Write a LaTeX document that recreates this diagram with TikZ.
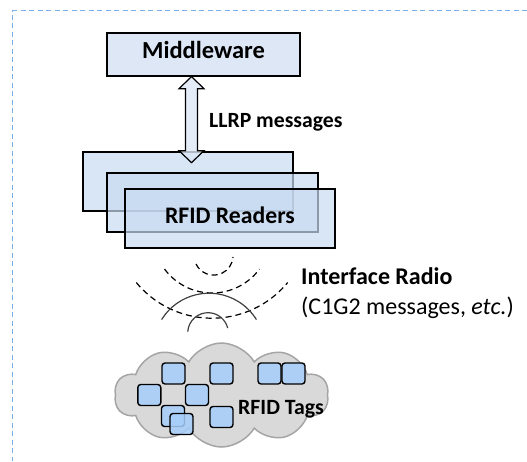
\documentclass[tikz,border=0pt]{standalone}
\usepackage{fontspec}
\setmainfont{Carlito}
\usetikzlibrary{shapes.symbols,calc}
\definecolor{framec}{RGB}{120,175,230}
\definecolor{boxfill}{RGB}{221,231,246}
\definecolor{rdfill}{RGB}{200,219,242}
\definecolor{tagfill}{RGB}{166,206,250}
\definecolor{cloudfill}{RGB}{217,217,217}
\definecolor{cloudline}{RGB}{165,165,165}
\definecolor{arcline}{RGB}{64,64,64}
\begin{document}
\begin{tikzpicture}[x=1pt,y=1pt,
  box/.style={draw=black, line width=1.3pt, rectangle, inner sep=0pt},
  reader/.style={box, fill=rdfill, fill opacity=0.7, text opacity=1, minimum width=210, minimum height=59},
  tagbox/.style={draw=black, line width=1.4pt, fill=tagfill, fill opacity=0.85, rounded corners=3pt, minimum width=23, minimum height=21, inner sep=0pt},
  wave/.style={line width=1.2pt, dash pattern=on 6pt off 4pt},
  solidwave/.style={line width=1.2pt, draw=arcline},
]
\useasboundingbox (0,0) rectangle (527,-461);
\clip (0,0) rectangle (527,-461);
% frame
\draw[framec, line width=1.5pt, dash pattern=on 5pt off 3.5pt] (527,-10.7) -- (12.7,-10.7) -- (12.7,-461);
% middleware
\node[box, fill=boxfill, minimum width=193, minimum height=43, font=\fontsize{24.5}{28}\selectfont\bfseries, text height=15.5, text depth=8.5] (mw) at (203.5,-54.5) {Middleware};
% readers
\node[reader] (r1) at (188,-181.5) {};
% arrow
\path (mw.south) ++(-12,0) coordinate (atop);
\path (atop) ++(0,-86) coordinate (abot);
\draw[line width=1.2pt, fill=boxfill, fill opacity=0.8] (atop) -- ++(12.5,-12) -- ++(-6.5,0) -- ($(abot)+(6,12)$) -- ++(6.5,0) -- (abot) -- ++(-12.5,12) -- ++(6.5,0) -- ($(atop)+(-6,-12)$) -- ++(-6.5,0) -- cycle;
\node[reader, minimum width=211] (r2) at (212.5,-202.5) {};
\node[reader, font=\fontsize{23.7}{28}\selectfont\bfseries, text height=15.5, text depth=6.5] (r3) at (230,-218.5) {RFID Readers};
\node[anchor=base west, inner sep=0pt, font=\fontsize{21.7}{25}\selectfont\bfseries] (llrp) at (209,-127.6) {LLRP messages};
% radio waves
\draw[wave] ([shift={(205.5:19.5)}]213.6,-255.6) arc[start angle=205.5, end angle=355.9, radius=19.5];
\draw[wave] ([shift={(216.4:59)}]212,-234) arc[start angle=216.4, end angle=323.6, radius=59];
\draw[wave] ([shift={(219.6:98.2)}]212,-220) arc[start angle=219.6, end angle=320.4, radius=98.2];
\draw[solidwave] ([shift={(148.2:55.8)}]209,-349) arc[start angle=148.2, end angle=31.8, radius=55.8];
\draw[solidwave] ([shift={(176:20.3)}]208,-333) arc[start angle=176, end angle=14, radius=20.3];
\node[anchor=base west, inner sep=0pt, font=\fontsize{24}{28}\selectfont\bfseries] (ir) at (301,-284) {Interface Radio};
\node[anchor=base west, inner sep=0pt, font=\fontsize{24}{28}\selectfont] (c1g2) at (301,-314.5) {(C1G2 messages, \textit{etc.})};
% cloud
\node[cloud, cloud puffs=10, cloud puff arc=120, aspect=2.05, draw=cloudline, line width=1.5pt, fill=cloudfill, minimum width=214, minimum height=104, inner sep=0pt] (cloud) at (221.5,-395) {};
\node[tagbox] (t1) at (173.5,-373.5) {};
\node[tagbox] (t2) at (221.5,-373.5) {};
\node[tagbox] (t3) at (269.5,-373.5) {};
\node[tagbox] (t4) at (293.5,-373.5) {};
\node[tagbox] (t5) at (149.3,-395) {};
\node[tagbox] (t6) at (197,-395) {};
\node[tagbox] (t7) at (173,-416) {};
\node[tagbox] (t8) at (181.5,-424) {};
\node[tagbox] (t9) at (221.5,-417) {};
\node[anchor=base, inner sep=0pt, font=\fontsize{21.8}{25}\selectfont\bfseries] (tags) at (281,-414.7) {RFID Tags};
\end{tikzpicture}
\end{document}
